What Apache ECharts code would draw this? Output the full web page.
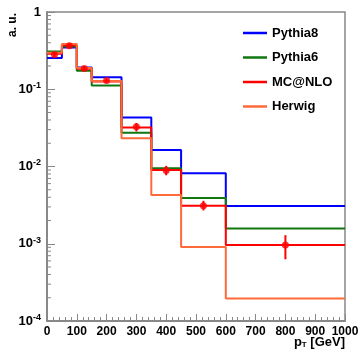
<!DOCTYPE html>
<html>
<head>
<meta charset="utf-8">
<script src="https://cdn.jsdelivr.net/npm/echarts@6/dist/echarts.min.js"></script>
<style>
html, body { margin: 0; padding: 0; background: #fff; }
#chart { width: 362px; height: 351px; }
</style>
</head>
<body>
<div id="chart"></div>
<script>
// bin edges in pT [GeV]
var edges = [0, 50, 100, 150, 250, 350, 450, 600, 1000];

var pythia8 = [0.253, 0.348, 0.191, 0.1435, 0.043, 0.0164, 0.0082, 0.00307];
var pythia6 = [0.308, 0.358, 0.173, 0.112, 0.0274, 0.0095, 0.0039, 0.00158];
var mcnlo = [0.288, 0.37, 0.184, 0.126, 0.0319, 0.009, 0.0031, 0.00096];
var herwig = [0.296, 0.385, 0.188, 0.128, 0.0232, 0.00427, 0.00091, 0.000195];

// MC@NLO points with errors
var pointX = [25, 75, 125, 200, 300, 400, 525, 800];
var pointY = [0.28, 0.365, 0.186, 0.13, 0.0328, 0.00885, 0.0031, 0.00096];
var errLo = [0.262, 0.343, 0.176, 0.123, 0.0284, 0.0077, 0.0027, 0.00063];
var errHi = [0.30, 0.39, 0.197, 0.138, 0.0365, 0.0102, 0.0036, 0.00129];

// minor ticks on the log axis
var yMinor = [];
for (var e = -4; e < 0; e++) {
	for (var m = 2; m <= 9; m++) {
		yMinor.push(m * Math.pow(10, e));
	}
}

chart();

function steps(vals) {
	var out = [];
	for (var i = 0; i < vals.length; i++) {
		out.push([edges[i], vals[i]]);
		out.push([edges[i + 1], vals[i]]);
	}
	return out;
}

function histo(name, vals, color) {
	return {
		name: name,
		type: 'line',
		data: steps(vals),
		symbol: 'none',
		color: color,
		lineStyle: { color: color, width: 2 },
		animation: false
	};
}

function chart() {
	var dom = document.getElementById("chart");
	var myChart = echarts.init(dom);
	var font = 'Liberation Sans, Arial, sans-serif';

	var option = {
		animation: false,
		textStyle: { fontFamily: font },
		grid: {
			left: 47,
			right: 17,
			top: 12,
			bottom: 30,
			show: true,
			borderColor: '#888',
			borderWidth: 1.5
		},
		legend: {
			orient: 'vertical',
			left: 238,
			top: 21,
			icon: 'rect',
			itemWidth: 24,
			itemHeight: 2.5,
			itemGap: 10.5,
			selectedMode: false,
			textStyle: {
				fontFamily: font,
				fontWeight: 'bold',
				fontSize: 13,
				lineHeight: 14,
				color: '#000'
			},
			data: ['Pythia8', 'Pythia6', 'MC@NLO', 'Herwig']
		},
		xAxis: {
			type: 'value',
			min: 0,
			max: 1000,
			interval: 100,
			splitLine: { show: false },
			axisLine: { lineStyle: { color: '#888', width: 2 } },
			axisTick: { inside: true, length: 7, lineStyle: { color: '#888', width: 1 } },
			minorTick: { show: true, splitNumber: 5, length: 4, lineStyle: { color: '#888', width: 1 } },
			axisLabel: {
				color: '#000',
				fontWeight: 'bold',
				fontSize: 12,
				fontFamily: font,
				margin: 5,
				showMinLabel: true,
				showMaxLabel: true,
				formatter: function(v) { return String(v); }
			}
		},
		yAxis: {
			type: 'log',
			min: 1e-4,
			max: 1,
			logBase: 10,
			splitLine: { show: false },
			axisLine: { lineStyle: { color: '#888', width: 2 } },
			axisTick: { inside: true, length: 8, lineStyle: { color: '#888', width: 1 } },
			axisLabel: {
				margin: 6,
				formatter: function(v) {
					var p = Math.round(Math.log(v) / Math.LN10);
					if (p === 0) return '{b|1}';
					return '{b|10}{s|' + p + '}';
				},
				rich: {
					b: { fontWeight: 'bold', fontSize: 13, color: '#000', fontFamily: font, lineHeight: 16 },
					s: { fontWeight: 'bold', fontSize: 9, color: '#000', fontFamily: font, verticalAlign: 'top', lineHeight: 10 }
				}
			}
		},
		graphic: [
			{
				type: 'text',
				rotation: Math.PI / 2,
				style: {
					text: 'a. u.',
					fontFamily: font,
					fontWeight: 'bold',
					fontSize: 12,
					fill: '#000'
				},
				x: 7, y: 37
			},
			{
				type: 'text',
				x: 345,
				y: 336,
				style: {
					rich: {
						p: { fontFamily: font, fontWeight: 'bold', fontSize: 13, fill: '#000' },
						t: { fontFamily: font, fontWeight: 'bold', fontSize: 8, fill: '#000', verticalAlign: 'bottom' }
					},
					text: '{p|p}{t|T}{p| [GeV]}',
					align: 'right'
				}
			}
		],
		series: [
			histo('Pythia8', pythia8, '#0000ff'),
			histo('Pythia6', pythia6, '#117711'),
			histo('MC@NLO', mcnlo, '#ff0000'),
			histo('Herwig', herwig, '#ff6a3a'),
			{
				type: 'custom',
				silent: true,
				data: yMinor.map(function(v) { return [0, v]; }),
				encode: { x: 0, y: 1 },
				renderItem: function(params, api) {
					var p = api.coord([0, api.value(1)]);
					return {
						type: 'line',
						shape: { x1: p[0], y1: p[1], x2: p[0] + 4, y2: p[1] },
						style: { stroke: '#888', lineWidth: 1 }
					};
				},
				animation: false
			},
			{
				type: 'custom',
				silent: true,
				data: pointX.map(function(x, i) { return [x, errLo[i], errHi[i]]; }),
				encode: { x: 0, y: [1, 2] },
				renderItem: function(params, api) {
					var a = api.coord([api.value(0), api.value(1)]);
					var b = api.coord([api.value(0), api.value(2)]);
					return {
						type: 'line',
						shape: { x1: a[0], y1: a[1], x2: b[0], y2: b[1] },
						style: { stroke: '#ff0000', lineWidth: 2 }
					};
				},
				z: 5,
				animation: false
			},
			{
				type: 'scatter',
				data: pointX.map(function(x, i) { return [x, pointY[i]]; }),
				symbol: 'circle',
				symbolSize: 7,
				itemStyle: { color: '#ff0000' },
				z: 6,
				animation: false
			}
		]
	};
	myChart.setOption(option, true);
}
</script>
</body>
</html>
